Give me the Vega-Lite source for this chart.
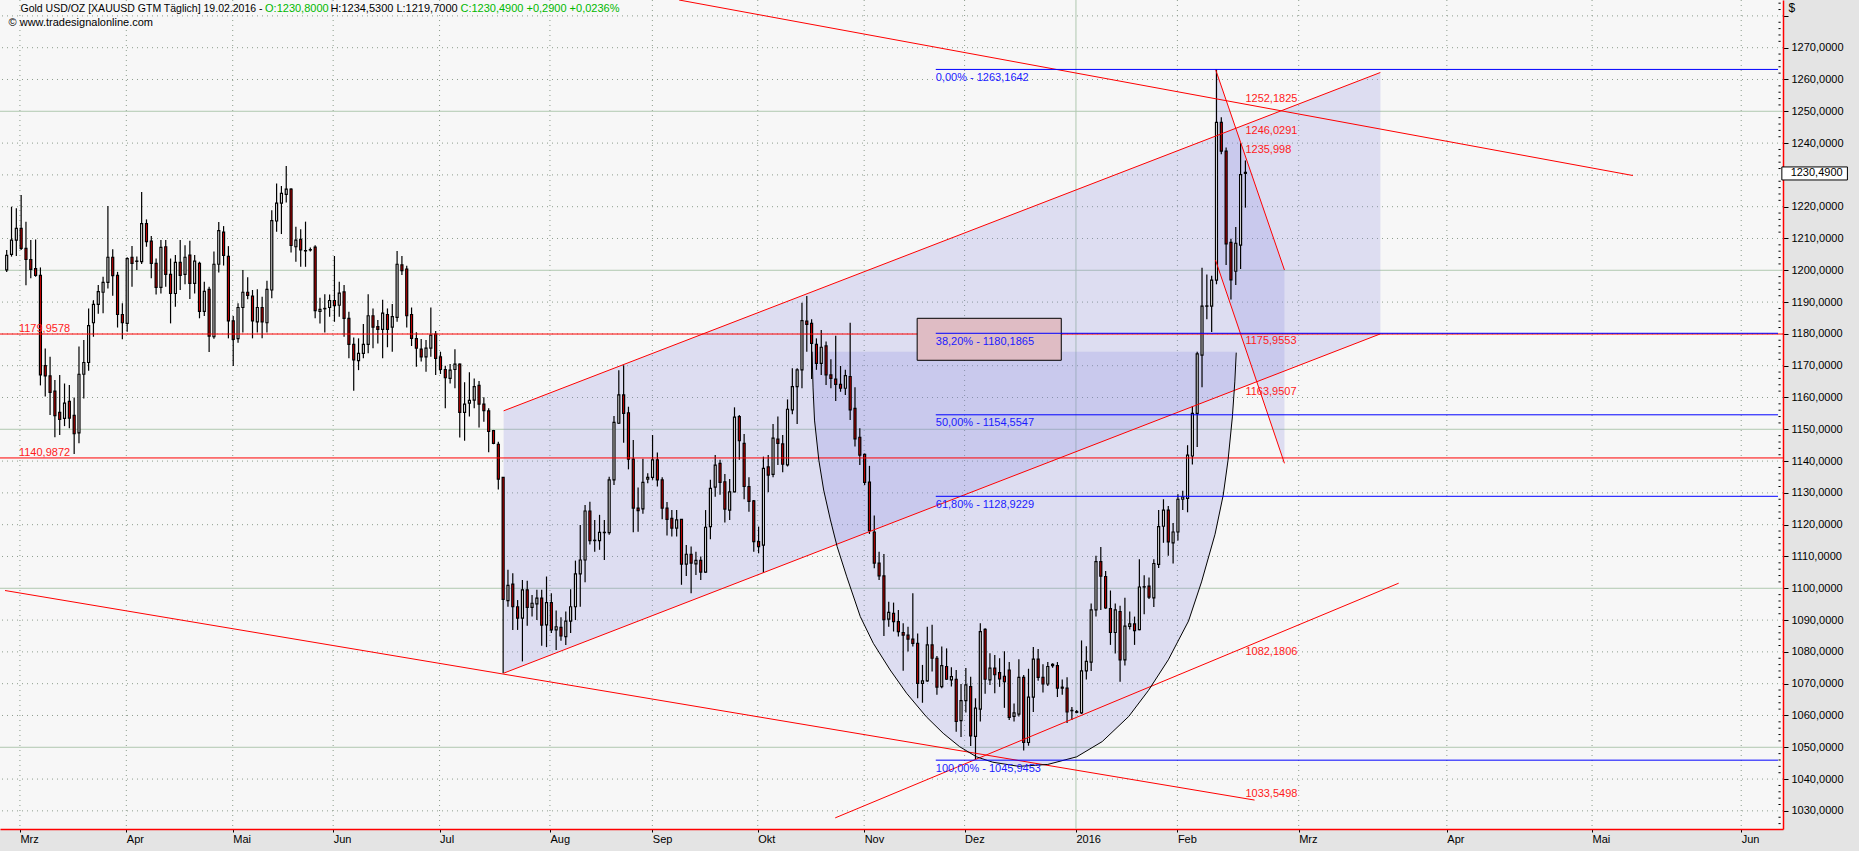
{
  "$schema": "https://vega.github.io/schema/vega-lite/v6.json",
  "width": 1783,
  "height": 829,
  "autosize": {"type": "none"},
  "padding": {"left": 0, "top": 0, "right": 76, "bottom": 22},
  "background": "#e4e4e4",
  "config": {"font": "Liberation Sans", "view": {"fill": "#f7f7f7", "stroke": null}},
  "resolve": {"axis": {"x": "independent", "y": "independent"}},
  "datasets": {
    "candles": [
      {"i":0,"o":1200.1,"h":1206.4,"l":1199.5,"c":1204.7},{"i":1,"o":1205.0,"h":1220.0,"l":1204.3,"c":1209.5},{"i":2,"o":1209.5,"h":1219.5,"l":1204.5,"c":1213.2},{"i":3,"o":1213.2,"h":1223.7,"l":1206.4,"c":1206.9},{"i":4,"o":1206.9,"h":1215.3,"l":1195.3,"c":1203.4},{"i":5,"o":1203.4,"h":1209.5,"l":1197.5,"c":1200.3},{"i":6,"o":1200.5,"h":1209.7,"l":1198.0,"c":1198.4},{"i":7,"o":1198.4,"h":1200.9,"l":1163.8,"c":1167.1},{"i":8,"o":1170.0,"h":1175.4,"l":1160.3,"c":1166.8},{"i":9,"o":1166.8,"h":1172.8,"l":1154.5,"c":1161.6},
      {"i":10,"o":1162.0,"h":1165.5,"l":1147.5,"c":1154.3},{"i":11,"o":1155.3,"h":1167.1,"l":1148.2,"c":1153.1},{"i":12,"o":1153.4,"h":1164.4,"l":1151.0,"c":1158.2},{"i":13,"o":1158.8,"h":1163.9,"l":1150.3,"c":1153.5},{"i":14,"o":1154.4,"h":1160.0,"l":1142.2,"c":1148.6},{"i":15,"o":1148.9,"h":1176.0,"l":1145.6,"c":1167.3},{"i":16,"o":1167.3,"h":1178.1,"l":1159.7,"c":1171.0},{"i":17,"o":1171.0,"h":1188.0,"l":1168.4,"c":1182.6},{"i":18,"o":1183.5,"h":1190.6,"l":1179.1,"c":1189.3},{"i":19,"o":1189.3,"h":1195.4,"l":1186.3,"c":1193.3},
      {"i":20,"o":1193.1,"h":1198.0,"l":1186.5,"c":1196.2},{"i":21,"o":1196.2,"h":1220.2,"l":1194.3,"c":1204.1},{"i":22,"o":1204.1,"h":1206.6,"l":1192.0,"c":1198.3},{"i":23,"o":1198.4,"h":1199.5,"l":1182.0,"c":1186.1},{"i":24,"o":1186.1,"h":1189.6,"l":1178.3,"c":1183.5},{"i":25,"o":1183.3,"h":1204.1,"l":1180.7,"c":1203.7},{"i":26,"o":1204.1,"h":1207.6,"l":1194.8,"c":1202.2},{"i":27,"o":1202.8,"h":1204.3,"l":1200.1,"c":1202.9},{"i":28,"o":1202.7,"h":1224.6,"l":1202.0,"c":1214.7},{"i":29,"o":1214.7,"h":1216.0,"l":1207.4,"c":1209.0},
      {"i":30,"o":1209.2,"h":1210.8,"l":1197.5,"c":1202.2},{"i":31,"o":1202.2,"h":1203.7,"l":1192.4,"c":1194.6},{"i":32,"o":1194.6,"h":1209.5,"l":1192.7,"c":1207.2},{"i":33,"o":1207.4,"h":1209.5,"l":1194.8,"c":1198.7},{"i":34,"o":1198.7,"h":1203.7,"l":1183.3,"c":1192.7},{"i":35,"o":1192.7,"h":1204.8,"l":1188.5,"c":1202.5},{"i":36,"o":1202.5,"h":1209.5,"l":1193.8,"c":1198.4},{"i":37,"o":1198.7,"h":1207.9,"l":1195.6,"c":1204.1},{"i":38,"o":1204.8,"h":1209.3,"l":1191.0,"c":1195.9},{"i":39,"o":1195.9,"h":1204.8,"l":1192.7,"c":1202.9},
      {"i":40,"o":1202.2,"h":1202.7,"l":1184.9,"c":1187.1},{"i":41,"o":1187.1,"h":1196.4,"l":1185.6,"c":1193.4},{"i":42,"o":1194.0,"h":1194.8,"l":1174.3,"c":1179.3},{"i":43,"o":1179.1,"h":1205.9,"l":1178.5,"c":1201.9},{"i":44,"o":1201.9,"h":1215.2,"l":1199.3,"c":1212.5},{"i":45,"o":1212.0,"h":1213.9,"l":1201.5,"c":1204.7},{"i":46,"o":1204.4,"h":1207.6,"l":1178.6,"c":1184.1},{"i":47,"o":1184.1,"h":1185.6,"l":1169.9,"c":1178.3},{"i":48,"o":1178.5,"h":1189.6,"l":1177.2,"c":1188.3},{"i":49,"o":1188.3,"h":1200.1,"l":1180.4,"c":1193.1},
      {"i":50,"o":1193.1,"h":1197.8,"l":1190.9,"c":1192.1},{"i":51,"o":1191.9,"h":1193.8,"l":1178.6,"c":1184.1},{"i":52,"o":1183.8,"h":1194.0,"l":1180.4,"c":1188.3},{"i":53,"o":1188.3,"h":1191.7,"l":1178.6,"c":1183.8},{"i":54,"o":1183.5,"h":1196.7,"l":1180.4,"c":1194.0},{"i":55,"o":1193.8,"h":1218.9,"l":1191.2,"c":1215.6},{"i":56,"o":1215.5,"h":1227.3,"l":1212.1,"c":1221.1},{"i":57,"o":1221.1,"h":1226.5,"l":1211.4,"c":1224.2},{"i":58,"o":1223.9,"h":1232.8,"l":1221.3,"c":1225.5},{"i":59,"o":1225.5,"h":1225.8,"l":1205.6,"c":1207.8},
      {"i":60,"o":1207.4,"h":1213.7,"l":1202.7,"c":1209.5},{"i":61,"o":1209.7,"h":1212.9,"l":1201.1,"c":1206.4},{"i":62,"o":1206.2,"h":1215.3,"l":1201.1,"c":1206.1},{"i":63,"o":1206.4,"h":1207.2,"l":1205.9,"c":1206.5},{"i":64,"o":1207.3,"h":1207.9,"l":1184.9,"c":1187.3},{"i":65,"o":1187.1,"h":1191.4,"l":1183.3,"c":1187.7},{"i":66,"o":1187.9,"h":1192.5,"l":1180.4,"c":1188.0},{"i":67,"o":1188.3,"h":1192.4,"l":1185.4,"c":1190.5},{"i":68,"o":1190.5,"h":1204.5,"l":1183.8,"c":1188.9},{"i":69,"o":1189.0,"h":1196.4,"l":1185.4,"c":1192.8},
      {"i":70,"o":1193.2,"h":1195.4,"l":1179.1,"c":1184.9},{"i":71,"o":1184.9,"h":1187.0,"l":1172.3,"c":1176.7},{"i":72,"o":1176.7,"h":1178.9,"l":1162.1,"c":1171.8},{"i":73,"o":1171.6,"h":1178.6,"l":1168.6,"c":1173.9},{"i":74,"o":1173.9,"h":1183.1,"l":1172.3,"c":1176.7},{"i":75,"o":1176.7,"h":1192.5,"l":1173.9,"c":1185.7},{"i":76,"o":1185.7,"h":1188.0,"l":1175.5,"c":1182.1},{"i":77,"o":1182.3,"h":1184.4,"l":1177.0,"c":1181.4},{"i":78,"o":1181.4,"h":1190.7,"l":1172.3,"c":1186.5},{"i":79,"o":1186.1,"h":1188.0,"l":1175.8,"c":1181.4},
      {"i":80,"o":1182.1,"h":1189.4,"l":1174.4,"c":1185.4},{"i":81,"o":1185.2,"h":1206.1,"l":1183.8,"c":1201.9},{"i":82,"o":1201.7,"h":1204.5,"l":1198.5,"c":1199.9},{"i":83,"o":1200.4,"h":1201.4,"l":1182.0,"c":1185.7},{"i":84,"o":1186.1,"h":1188.3,"l":1176.2,"c":1178.6},{"i":85,"o":1178.5,"h":1180.5,"l":1169.7,"c":1175.5},{"i":86,"o":1175.2,"h":1178.4,"l":1171.3,"c":1172.8},{"i":87,"o":1172.8,"h":1178.1,"l":1168.1,"c":1175.5},{"i":88,"o":1175.5,"h":1188.3,"l":1172.8,"c":1179.6},{"i":89,"o":1179.9,"h":1180.9,"l":1167.1,"c":1172.3},
      {"i":90,"o":1172.8,"h":1174.4,"l":1167.4,"c":1168.8},{"i":91,"o":1168.8,"h":1170.0,"l":1156.6,"c":1166.2},{"i":92,"o":1166.0,"h":1170.5,"l":1164.4,"c":1168.6},{"i":93,"o":1168.8,"h":1175.2,"l":1162.9,"c":1170.5},{"i":94,"o":1170.5,"h":1170.7,"l":1147.4,"c":1155.3},{"i":95,"o":1155.3,"h":1164.8,"l":1146.4,"c":1157.9},{"i":96,"o":1158.2,"h":1167.9,"l":1154.0,"c":1159.1},{"i":97,"o":1159.2,"h":1166.0,"l":1156.6,"c":1163.4},{"i":98,"o":1163.8,"h":1165.2,"l":1150.6,"c":1157.9},{"i":99,"o":1157.9,"h":1160.1,"l":1152.4,"c":1155.9},
      {"i":100,"o":1155.8,"h":1156.6,"l":1142.8,"c":1149.3},{"i":101,"o":1149.6,"h":1149.8,"l":1145.3,"c":1145.6},{"i":102,"o":1145.3,"h":1146.1,"l":1131.1,"c":1134.3},{"i":103,"o":1134.9,"h":1134.9,"l":1073.3,"c":1096.5},{"i":104,"o":1096.1,"h":1105.8,"l":1094.2,"c":1100.9},{"i":105,"o":1101.3,"h":1104.7,"l":1086.9,"c":1094.2},{"i":106,"o":1094.2,"h":1096.3,"l":1086.9,"c":1090.6},{"i":107,"o":1090.6,"h":1102.6,"l":1077.0,"c":1099.5},{"i":108,"o":1099.5,"h":1102.4,"l":1088.2,"c":1094.0},{"i":109,"o":1094.0,"h":1097.9,"l":1091.1,"c":1095.3},
      {"i":110,"o":1095.1,"h":1099.5,"l":1090.0,"c":1096.9},{"i":111,"o":1096.9,"h":1099.5,"l":1081.9,"c":1088.4},{"i":112,"o":1088.5,"h":1103.7,"l":1081.5,"c":1095.5},{"i":113,"o":1095.5,"h":1098.4,"l":1085.9,"c":1086.9},{"i":114,"o":1086.9,"h":1093.0,"l":1080.6,"c":1087.9},{"i":115,"o":1087.7,"h":1090.9,"l":1083.5,"c":1085.0},{"i":116,"o":1084.8,"h":1092.7,"l":1082.2,"c":1089.7},{"i":117,"o":1089.7,"h":1099.7,"l":1085.9,"c":1094.2},{"i":118,"o":1094.2,"h":1108.7,"l":1090.0,"c":1104.5},{"i":119,"o":1104.5,"h":1119.9,"l":1094.2,"c":1108.9},
      {"i":120,"o":1108.9,"h":1126.2,"l":1101.9,"c":1124.3},{"i":121,"o":1124.3,"h":1127.2,"l":1113.8,"c":1115.0},{"i":122,"o":1115.0,"h":1121.5,"l":1111.5,"c":1115.1},{"i":123,"o":1115.0,"h":1123.1,"l":1112.1,"c":1117.6},{"i":124,"o":1117.5,"h":1121.5,"l":1108.9,"c":1117.6},{"i":125,"o":1117.5,"h":1135.1,"l":1116.8,"c":1134.1},{"i":126,"o":1134.1,"h":1154.2,"l":1132.5,"c":1152.2},{"i":127,"o":1151.9,"h":1168.6,"l":1151.7,"c":1160.8},{"i":128,"o":1160.8,"h":1170.1,"l":1145.8,"c":1155.0},{"i":129,"o":1155.2,"h":1157.1,"l":1137.4,"c":1140.6},
      {"i":130,"o":1140.6,"h":1146.6,"l":1117.6,"c":1125.2},{"i":131,"o":1125.2,"h":1131.7,"l":1117.8,"c":1124.4},{"i":132,"o":1125.0,"h":1140.7,"l":1123.4,"c":1133.3},{"i":133,"o":1134.3,"h":1136.2,"l":1133.0,"c":1134.9},{"i":134,"o":1134.9,"h":1148.2,"l":1134.1,"c":1140.4},{"i":135,"o":1140.4,"h":1142.7,"l":1132.0,"c":1134.1},{"i":136,"o":1134.1,"h":1134.9,"l":1121.7,"c":1125.2},{"i":137,"o":1125.2,"h":1127.1,"l":1116.6,"c":1121.7},{"i":138,"o":1122.0,"h":1124.6,"l":1116.3,"c":1118.9},{"i":139,"o":1118.9,"h":1124.6,"l":1116.3,"c":1121.5},
      {"i":140,"o":1121.7,"h":1121.7,"l":1101.1,"c":1107.6},{"i":141,"o":1107.6,"h":1113.6,"l":1103.9,"c":1110.7},{"i":142,"o":1110.7,"h":1113.1,"l":1098.4,"c":1107.9},{"i":143,"o":1107.7,"h":1111.5,"l":1104.2,"c":1108.8},{"i":144,"o":1108.8,"h":1110.0,"l":1102.6,"c":1105.1},{"i":145,"o":1105.1,"h":1124.6,"l":1104.9,"c":1119.2},{"i":146,"o":1119.4,"h":1134.1,"l":1115.4,"c":1131.4},{"i":147,"o":1131.8,"h":1141.9,"l":1128.8,"c":1138.7},{"i":148,"o":1139.3,"h":1140.4,"l":1129.4,"c":1133.3},{"i":149,"o":1133.5,"h":1135.9,"l":1120.7,"c":1124.9},
      {"i":150,"o":1124.6,"h":1134.4,"l":1121.5,"c":1130.3},{"i":151,"o":1130.3,"h":1156.9,"l":1130.2,"c":1153.8},{"i":152,"o":1154.0,"h":1154.5,"l":1140.4,"c":1146.4},{"i":153,"o":1145.6,"h":1148.5,"l":1128.0,"c":1132.0},{"i":154,"o":1132.0,"h":1134.9,"l":1124.1,"c":1127.3},{"i":155,"o":1127.5,"h":1127.8,"l":1111.5,"c":1114.7},{"i":156,"o":1114.7,"h":1119.4,"l":1111.0,"c":1113.1},{"i":157,"o":1113.6,"h":1141.4,"l":1104.9,"c":1137.7},{"i":158,"o":1138.2,"h":1141.9,"l":1130.2,"c":1135.6},{"i":159,"o":1135.8,"h":1151.7,"l":1134.9,"c":1147.2},
      {"i":160,"o":1146.9,"h":1154.0,"l":1138.8,"c":1145.6},{"i":161,"o":1145.4,"h":1148.2,"l":1136.5,"c":1139.0},{"i":162,"o":1138.8,"h":1159.4,"l":1138.3,"c":1156.3},{"i":163,"o":1156.1,"h":1169.2,"l":1154.7,"c":1163.4},{"i":164,"o":1163.4,"h":1169.2,"l":1151.7,"c":1168.7},{"i":165,"o":1168.7,"h":1189.8,"l":1162.9,"c":1184.2},{"i":166,"o":1184.0,"h":1191.9,"l":1174.4,"c":1183.0},{"i":167,"o":1183.3,"h":1184.6,"l":1165.8,"c":1177.0},{"i":168,"o":1176.7,"h":1178.6,"l":1168.7,"c":1170.7},{"i":169,"o":1170.7,"h":1181.2,"l":1167.1,"c":1175.8},
      {"i":170,"o":1176.2,"h":1177.6,"l":1163.9,"c":1167.1},{"i":171,"o":1167.1,"h":1172.0,"l":1162.9,"c":1166.0},{"i":172,"o":1165.8,"h":1179.4,"l":1158.9,"c":1164.1},{"i":173,"o":1164.1,"h":1169.9,"l":1161.8,"c":1162.9},{"i":174,"o":1162.9,"h":1168.7,"l":1160.8,"c":1166.9},{"i":175,"o":1166.6,"h":1183.5,"l":1152.9,"c":1156.1},{"i":176,"o":1156.6,"h":1163.2,"l":1144.6,"c":1147.0},{"i":177,"o":1147.5,"h":1150.3,"l":1138.8,"c":1141.9},{"i":178,"o":1142.1,"h":1142.4,"l":1132.5,"c":1133.3},{"i":179,"o":1133.4,"h":1138.5,"l":1117.1,"c":1118.1},
      {"i":180,"o":1117.7,"h":1122.9,"l":1106.3,"c":1107.9},{"i":181,"o":1107.9,"h":1111.5,"l":1102.6,"c":1103.9},{"i":182,"o":1103.9,"h":1110.8,"l":1085.0,"c":1090.1},{"i":183,"o":1090.3,"h":1095.8,"l":1087.9,"c":1092.4},{"i":184,"o":1092.1,"h":1095.5,"l":1086.4,"c":1089.5},{"i":185,"o":1089.5,"h":1093.2,"l":1084.8,"c":1086.4},{"i":186,"o":1086.1,"h":1089.0,"l":1074.1,"c":1085.3},{"i":187,"o":1085.3,"h":1087.9,"l":1080.1,"c":1084.0},{"i":188,"o":1084.0,"h":1098.4,"l":1081.7,"c":1082.7},{"i":189,"o":1082.7,"h":1085.8,"l":1065.4,"c":1070.1},
      {"i":190,"o":1070.1,"h":1075.9,"l":1064.0,"c":1070.9},{"i":191,"o":1070.9,"h":1087.9,"l":1070.6,"c":1082.2},{"i":192,"o":1082.2,"h":1088.5,"l":1073.8,"c":1078.0},{"i":193,"o":1078.0,"h":1078.7,"l":1066.5,"c":1068.9},{"i":194,"o":1069.1,"h":1081.7,"l":1068.6,"c":1075.7},{"i":195,"o":1075.4,"h":1081.1,"l":1071.2,"c":1071.4},{"i":196,"o":1071.2,"h":1075.2,"l":1069.1,"c":1072.2},{"i":197,"o":1071.4,"h":1074.3,"l":1054.9,"c":1058.1},{"i":198,"o":1058.4,"h":1069.9,"l":1053.2,"c":1064.7},{"i":199,"o":1064.7,"h":1074.9,"l":1060.9,"c":1069.6},
      {"i":200,"o":1069.1,"h":1072.2,"l":1050.4,"c":1053.6},{"i":201,"o":1053.4,"h":1065.4,"l":1046.0,"c":1062.3},{"i":202,"o":1062.0,"h":1089.0,"l":1058.1,"c":1086.4},{"i":203,"o":1087.1,"h":1087.4,"l":1066.8,"c":1071.4},{"i":204,"o":1071.2,"h":1079.6,"l":1069.6,"c":1074.9},{"i":205,"o":1074.9,"h":1079.0,"l":1067.0,"c":1072.8},{"i":206,"o":1073.5,"h":1078.0,"l":1069.0,"c":1071.5},{"i":207,"o":1072.3,"h":1080.2,"l":1062.4,"c":1070.6},{"i":208,"o":1074.3,"h":1076.8,"l":1058.6,"c":1059.4},{"i":209,"o":1059.7,"h":1063.8,"l":1058.1,"c":1060.8},
      {"i":210,"o":1060.4,"h":1077.7,"l":1059.7,"c":1072.0},{"i":211,"o":1072.0,"h":1072.7,"l":1049.0,"c":1051.5},{"i":212,"o":1051.5,"h":1074.7,"l":1050.5,"c":1065.8},{"i":213,"o":1065.8,"h":1081.5,"l":1061.1,"c":1077.7},{"i":214,"o":1077.7,"h":1080.9,"l":1070.9,"c":1072.0},{"i":215,"o":1072.0,"h":1076.1,"l":1067.2,"c":1069.9},{"i":216,"o":1069.9,"h":1076.8,"l":1069.3,"c":1075.4},{"i":217,"o":1075.7,"h":1076.4,"l":1075.0,"c":1076.1},{"i":218,"o":1075.7,"h":1076.8,"l":1065.8,"c":1068.6},{"i":219,"o":1068.9,"h":1071.3,"l":1066.5,"c":1068.6},
      {"i":220,"o":1068.6,"h":1072.0,"l":1057.6,"c":1061.1},{"i":221,"o":1061.5,"h":1062.7,"l":1058.6,"c":1061.6},{"i":222,"o":1061.2,"h":1061.7,"l":1060.7,"c":1061.0},{"i":223,"o":1060.8,"h":1083.6,"l":1060.5,"c":1074.0},{"i":224,"o":1074.0,"h":1081.8,"l":1071.3,"c":1077.0},{"i":225,"o":1076.8,"h":1095.2,"l":1074.0,"c":1093.2},{"i":226,"o":1093.2,"h":1110.2,"l":1091.1,"c":1108.4},{"i":227,"o":1108.4,"h":1113.0,"l":1093.2,"c":1103.8},{"i":228,"o":1103.7,"h":1105.4,"l":1093.6,"c":1093.8},{"i":229,"o":1093.6,"h":1099.3,"l":1082.2,"c":1086.1},
      {"i":230,"o":1086.1,"h":1095.2,"l":1079.5,"c":1093.2},{"i":231,"o":1092.7,"h":1094.5,"l":1070.6,"c":1077.5},{"i":232,"o":1077.5,"h":1097.0,"l":1075.7,"c":1088.1},{"i":233,"o":1088.0,"h":1092.7,"l":1087.0,"c":1088.8},{"i":234,"o":1088.8,"h":1091.1,"l":1082.2,"c":1086.7},{"i":235,"o":1087.0,"h":1109.1,"l":1086.8,"c":1100.4},{"i":236,"o":1100.4,"h":1104.1,"l":1091.8,"c":1100.5},{"i":237,"o":1100.7,"h":1103.4,"l":1096.6,"c":1097.2},{"i":238,"o":1097.0,"h":1109.1,"l":1094.1,"c":1107.8},{"i":239,"o":1107.5,"h":1124.6,"l":1106.4,"c":1119.4},
      {"i":240,"o":1119.5,"h":1128.0,"l":1114.3,"c":1124.6},{"i":241,"o":1124.6,"h":1125.9,"l":1110.2,"c":1114.6},{"i":242,"o":1114.3,"h":1120.5,"l":1107.8,"c":1117.7},{"i":243,"o":1117.7,"h":1129.6,"l":1115.0,"c":1128.0},{"i":244,"o":1128.0,"h":1130.7,"l":1124.6,"c":1128.7},{"i":245,"o":1128.3,"h":1145.0,"l":1123.9,"c":1141.9},{"i":246,"o":1141.6,"h":1157.3,"l":1138.9,"c":1155.0},{"i":247,"o":1155.0,"h":1174.4,"l":1144.4,"c":1173.7},{"i":248,"o":1173.3,"h":1200.8,"l":1163.2,"c":1188.7},{"i":249,"o":1188.7,"h":1198.7,"l":1184.6,"c":1188.8},
      {"i":250,"o":1188.7,"h":1198.3,"l":1180.6,"c":1196.9},{"i":251,"o":1196.9,"h":1263.16,"l":1195.6,"c":1246.5},{"i":252,"o":1246.5,"h":1248.1,"l":1236.5,"c":1237.5},{"i":253,"o":1237.5,"h":1238.6,"l":1201.7,"c":1208.3},{"i":254,"o":1208.8,"h":1209.9,"l":1190.8,"c":1197.0},{"i":255,"o":1199.7,"h":1213.6,"l":1195.4,"c":1208.5},{"i":256,"o":1207.9,"h":1240.0,"l":1200.4,"c":1230.1},{"i":257,"o":1230.8,"h":1234.53,"l":1219.7,"c":1230.49}
    ],
    "arc": [
      {"i":167.1,"p":1174.4},{"i":167.3,"p":1163.0},{"i":167.6,"p":1152.9},{"i":168.5,"p":1140.3},{"i":169.5,"p":1130.9},{"i":170.9,"p":1121.5},{"i":172.3,"p":1113.1},{"i":174.3,"p":1103.6},{"i":177.1,"p":1091.1},{"i":179.8,"p":1082.7},{"i":183.3,"p":1074.3},{"i":186.7,"p":1067.0},{"i":190.8,"p":1059.6},{"i":194.3,"p":1054.4},{"i":197.7,"p":1050.2},{"i":201.2,"p":1047.0},{"i":204.6,"p":1045.3},{"i":210.0,"p":1044.0},{"i":216.0,"p":1044.6},{"i":222.0,"p":1047.0},{"i":227.3,"p":1051.8},{"i":232.8,"p":1059.7},{"i":236.9,"p":1067.9},{"i":241.0,"p":1077.5},{"i":245.2,"p":1089.7},{"i":247.9,"p":1102.0},{"i":250.7,"p":1117.0},{"i":252.4,"p":1129.3},{"i":253.4,"p":1140.3},{"i":254.3,"p":1153.9},{"i":254.8,"p":1164.9},{"i":255.1,"p":1174.1}
    ],
    "channel": [
      {"i":103.1,"top":1155.8,"bot":1073.3},{"i":285.0,"top":1262.2,"bot":1180.0}
    ],
    "wedge": [
      {"i":250.8,"top":1263.2,"bot":1203.2},{"i":265.1,"top":1200.1,"bot":1139.3}
    ],
    "redlines": [
      {"id":"a","i":139.5,"p":1285.0},{"id":"a","i":337.4,"p":1229.8},
      {"id":"b","i":-0.35,"p":1099.3},{"id":"b","i":258.9,"p":1033.4},
      {"id":"c","i":171.9,"p":1027.8},{"id":"c","i":288.8,"p":1101.6},
      {"id":"d","i":103.1,"p":1155.8},{"id":"d","i":285.0,"p":1262.2},
      {"id":"e","i":103.1,"p":1073.3},{"id":"e","i":285.0,"p":1180.0},
      {"id":"f1","i":250.8,"p":1263.2},{"id":"f1","i":265.1,"p":1200.1},
      {"id":"f2","i":250.8,"p":1203.2},{"id":"f2","i":265.1,"p":1139.3}
    ],
    "levels": [
      {"i":2.54,"p":1179.9578,"t":"1179,9578"},{"i":2.54,"p":1140.9872,"t":"1140,9872"}
    ],
    "fib": [
      {"p":1263.1642,"t":"0,00% - 1263,1642"},{"p":1180.1865,"t":"38,20% - 1180,1865"},{"p":1154.5547,"t":"50,00% - 1154,5547"},{"p":1128.9229,"t":"61,80% - 1128,9229"},{"p":1045.9453,"t":"100,00% - 1045,9453"}
    ],
    "valsAbove": [
      {"i":257.0,"p":1252.1825,"t":"1252,1825"},{"i":257.0,"p":1235.998,"t":"1235,998"},{"i":257.0,"p":1175.9553,"t":"1175,9553"},{"i":257.0,"p":1033.5498,"t":"1033,5498"}
    ],
    "valsBelow": [
      {"i":257.0,"p":1246.0291,"t":"1246,0291"},{"i":257.0,"p":1163.9507,"t":"1163,9507"},{"i":257.0,"p":1082.1806,"t":"1082,1806"}
    ],
    "headerName": [
      {"i":2.87,"p":1281.3,"t":"Gold USD/OZ [XAUUSD GTM  Täglich] 19.02.2016 -"}
    ],
    "header": [
      {"i":53.6,"p":1281.3,"t":"O:1230,8000","k":"b"},
      {"i":67.16,"p":1281.3,"t":"H:1234,5300 L:1219,7000","k":"a"},
      {"i":94.14,"p":1281.3,"t":"C:1230,4900 +0,2900 +0,0236%","k":"b"},
      {"i":0.39,"p":1276.7,"t":"© www.tradesignalonline.com","k":"a"}
    ],
    "box": [
      {"i0":188.9,"i1":218.8,"p0":1184.9,"p1":1171.7}
    ],
    "last": [
      {"p":1230.49,"t":"1230,4900"}
    ],
    "solidY": [
      {"v":1050},{"v":1100},{"v":1150},{"v":1200},{"v":1250}
    ],
    "solidX": [
      {"v":221.846}
    ],
    "dotY": [
      {"v":1030},{"v":1040},{"v":1060},{"v":1070},{"v":1080},{"v":1090},{"v":1110},{"v":1120},{"v":1130},{"v":1140},{"v":1160},{"v":1170},{"v":1180},{"v":1190},{"v":1210},{"v":1220},{"v":1230},{"v":1240},{"v":1260},{"v":1270},{"v":1280}
    ],
    "dotX": [
      {"v":2.745},{"v":24.82},{"v":46.895},{"v":67.732},{"v":89.807},{"v":112.708},{"v":133.958},{"v":155.827},{"v":177.902},{"v":198.739},{"v":242.889},{"v":268.059},{"v":298.8},{"v":328.921},{"v":359.867}
    ],
    "minor": [
      {"v":1026},{"v":1028},{"v":1032},{"v":1034},{"v":1036},{"v":1038},{"v":1042},{"v":1044},{"v":1046},{"v":1048},
      {"v":1052},{"v":1054},{"v":1056},{"v":1058},{"v":1062},{"v":1064},{"v":1066},{"v":1068},{"v":1072},{"v":1074},{"v":1076},{"v":1078},
      {"v":1082},{"v":1084},{"v":1086},{"v":1088},{"v":1092},{"v":1094},{"v":1096},{"v":1098},{"v":1102},{"v":1104},{"v":1106},{"v":1108},
      {"v":1112},{"v":1114},{"v":1116},{"v":1118},{"v":1122},{"v":1124},{"v":1126},{"v":1128},{"v":1132},{"v":1134},{"v":1136},{"v":1138},
      {"v":1142},{"v":1144},{"v":1146},{"v":1148},{"v":1152},{"v":1154},{"v":1156},{"v":1158},{"v":1162},{"v":1164},{"v":1166},{"v":1168},
      {"v":1172},{"v":1174},{"v":1176},{"v":1178},{"v":1182},{"v":1184},{"v":1186},{"v":1188},{"v":1192},{"v":1194},{"v":1196},{"v":1198},
      {"v":1202},{"v":1204},{"v":1206},{"v":1208},{"v":1212},{"v":1214},{"v":1216},{"v":1218},{"v":1222},{"v":1224},{"v":1226},{"v":1228},
      {"v":1232},{"v":1234},{"v":1236},{"v":1238},{"v":1242},{"v":1244},{"v":1246},{"v":1248},{"v":1252},{"v":1254},{"v":1256},{"v":1258},
      {"v":1262},{"v":1264},{"v":1266},{"v":1268},{"v":1272},{"v":1274},{"v":1276},{"v":1278},{"v":1282},{"v":1284}
    ]
  },
  "layer": [
    {
      "data": {"name": "candles"},
      "mark": {"type": "bar", "orient": "vertical", "width": 2, "opacity": 0},
      "encoding": {
        "x": {
          "field": "i", "type": "quantitative",
          "scale": {"domain": [-0.35, 367.5], "nice": false, "zero": false},
          "axis": {
            "title": null,
            "values": [2.745, 24.82, 46.895, 67.732, 89.807, 112.708, 133.958, 155.827, 177.902, 198.739, 221.846, 242.889, 268.059, 298.8, 328.921, 359.867],
            "labelExpr": "['Mrz','Apr','Mai','Jun','Jul','Aug','Sep','Okt','Nov','Dez','2016','Feb','Mrz','Apr','Mai','Jun'][indexof([2.745, 24.82, 46.895, 67.732, 89.807, 112.708, 133.958, 155.827, 177.902, 198.739, 221.846, 242.889, 268.059, 298.8, 328.921, 359.867], datum.value)]",
            "grid": false,
            "domainColor": "#ff0000",
            "domainWidth": 1.5,
            "tickColor": "#000000",
            "tickSize": 3,
            "labelAlign": "left",
            "labelPadding": 1,
            "labelFont": "Liberation Sans",
            "labelFontSize": 11,
            "labelColor": "#000000",
            "labelFlush": false,
            "labelOverlap": false
          }
        },
        "y": {
          "field": "o", "type": "quantitative",
          "scale": {"domain": [1024.3, 1285], "nice": false, "zero": false},
          "axis": {
            "orient": "right",
            "title": "$",
            "titleAngle": 0,
            "titleAlign": "left",
            "titleBaseline": "top",
            "titleX": 5,
            "titleY": 2,
            "titleFont": "Liberation Sans",
            "titleFontSize": 12,
            "titleFontWeight": "normal",
            "values": [1030,1040,1050,1060,1070,1080,1090,1100,1110,1120,1130,1140,1150,1160,1170,1180,1190,1200,1210,1220,1230,1240,1250,1260,1270,1280],
            "labelExpr": "datum.value <= 1270 ? replace(format(datum.value, '.4f'), '.', ',') : ''",
            "labelFont": "Liberation Sans",
            "labelFontSize": 11,
            "labelColor": "#000000",
            "labelPadding": 3,
            "labelOverlap": false,
            "labelFlush": false,
            "tickColor": "#000000",
            "tickSize": 5,
            "domainColor": "#ff0000",
            "domainWidth": 1.5,
            "grid": false
          }
        },
        "y2": {"field": "c"}
      }
    },
    {
      "data": {"name": "dotY"},
      "mark": {"type": "rule", "color": "#8d9d8d", "strokeWidth": 1, "strokeDash": [1, 4]},
      "encoding": {
        "y": {"field": "v", "type": "quantitative", "scale": {"domain": [1024.3, 1285], "nice": false, "zero": false}, "axis": null}
      }
    },
    {
      "data": {"name": "dotX"},
      "mark": {"type": "rule", "color": "#8d9d8d", "strokeWidth": 1, "strokeDash": [1, 4]},
      "encoding": {
        "x": {"field": "v", "type": "quantitative", "scale": {"domain": [-0.35, 367.5], "nice": false, "zero": false}, "axis": null}
      }
    },
    {
      "data": {"name": "solidY"},
      "mark": {"type": "rule", "color": "#b0c8b0", "strokeWidth": 1},
      "encoding": {
        "y": {"field": "v", "type": "quantitative", "scale": {"domain": [1024.3, 1285], "nice": false, "zero": false}, "axis": null}
      }
    },
    {
      "data": {"name": "solidX"},
      "mark": {"type": "rule", "color": "#b0c8b0", "strokeWidth": 1},
      "encoding": {
        "x": {"field": "v", "type": "quantitative", "scale": {"domain": [-0.35, 367.5], "nice": false, "zero": false}, "axis": null}
      }
    },
    {
      "data": {"name": "minor"},
      "mark": {"type": "rule", "color": "#000000", "strokeWidth": 1},
      "encoding": {
        "x": {"datum": 367.6, "type": "quantitative", "scale": {"domain": [-0.35, 367.5], "nice": false, "zero": false}, "axis": null},
        "x2": {"datum": 368.05},
        "y": {"field": "v", "type": "quantitative", "scale": {"domain": [1024.3, 1285], "nice": false, "zero": false}, "axis": null}
      }
    },
    {
      "data": {"name": "channel"},
      "mark": {"type": "area", "color": "#8282e1", "opacity": 0.22},
      "encoding": {
        "x": {"field": "i", "type": "quantitative", "scale": {"domain": [-0.35, 367.5], "nice": false, "zero": false}, "axis": null},
        "y": {"field": "top", "type": "quantitative", "scale": {"domain": [1024.3, 1285], "nice": false, "zero": false}, "axis": null},
        "y2": {"field": "bot"}
      }
    },
    {
      "data": {"name": "arc"},
      "mark": {"type": "area", "color": "#8282e1", "opacity": 0.22},
      "encoding": {
        "x": {"field": "i", "type": "quantitative", "scale": {"domain": [-0.35, 367.5], "nice": false, "zero": false}, "axis": null},
        "y": {"field": "p", "type": "quantitative", "scale": {"domain": [1024.3, 1285], "nice": false, "zero": false}, "axis": null},
        "y2": {"datum": 1174.4}
      }
    },
    {
      "data": {"name": "wedge"},
      "mark": {"type": "area", "color": "#8282e1", "opacity": 0.22},
      "encoding": {
        "x": {"field": "i", "type": "quantitative", "scale": {"domain": [-0.35, 367.5], "nice": false, "zero": false}, "axis": null},
        "y": {"field": "top", "type": "quantitative", "scale": {"domain": [1024.3, 1285], "nice": false, "zero": false}, "axis": null},
        "y2": {"field": "bot"}
      }
    },
    {
      "data": {"name": "candles"},
      "mark": {"type": "rule", "color": "#000000", "strokeWidth": 1.2},
      "encoding": {
        "x": {"field": "i", "type": "quantitative", "scale": {"domain": [-0.35, 367.5], "nice": false, "zero": false}, "axis": null},
        "y": {"field": "l", "type": "quantitative", "scale": {"domain": [1024.3, 1285], "nice": false, "zero": false}, "axis": null},
        "y2": {"field": "h"}
      }
    },
    {
      "data": {"name": "candles"},
      "mark": {"type": "bar", "orient": "vertical", "width": 2, "stroke": "#000000", "strokeWidth": 1.2},
      "encoding": {
        "x": {"field": "i", "type": "quantitative", "scale": {"domain": [-0.35, 367.5], "nice": false, "zero": false}, "axis": null},
        "y": {"field": "o", "type": "quantitative", "scale": {"domain": [1024.3, 1285], "nice": false, "zero": false}, "axis": null},
        "y2": {"field": "c"},
        "fill": {"condition": {"test": "datum.c < datum.o", "value": "#e60000"}, "value": "#ffffff"}
      }
    },
    {
      "data": {"name": "levels"},
      "mark": {"type": "rule", "color": "#ff0000", "strokeWidth": 1},
      "encoding": {
        "y": {"field": "p", "type": "quantitative", "scale": {"domain": [1024.3, 1285], "nice": false, "zero": false}, "axis": null}
      }
    },
    {
      "data": {"name": "redlines"},
      "mark": {"type": "line", "color": "#ff0000", "strokeWidth": 1},
      "encoding": {
        "x": {"field": "i", "type": "quantitative", "scale": {"domain": [-0.35, 367.5], "nice": false, "zero": false}, "axis": null},
        "y": {"field": "p", "type": "quantitative", "scale": {"domain": [1024.3, 1285], "nice": false, "zero": false}, "axis": null},
        "detail": {"field": "id"}
      }
    },
    {
      "data": {"name": "arc"},
      "mark": {"type": "line", "color": "#000000", "strokeWidth": 1},
      "encoding": {
        "x": {"field": "i", "type": "quantitative", "scale": {"domain": [-0.35, 367.5], "nice": false, "zero": false}, "axis": null},
        "y": {"field": "p", "type": "quantitative", "scale": {"domain": [1024.3, 1285], "nice": false, "zero": false}, "axis": null}
      }
    },
    {
      "data": {"name": "box"},
      "mark": {"type": "rect", "fill": "#dfbcc4", "stroke": "#000000", "strokeWidth": 1},
      "encoding": {
        "x": {"field": "i0", "type": "quantitative", "scale": {"domain": [-0.35, 367.5], "nice": false, "zero": false}, "axis": null},
        "x2": {"field": "i1"},
        "y": {"field": "p0", "type": "quantitative", "scale": {"domain": [1024.3, 1285], "nice": false, "zero": false}, "axis": null},
        "y2": {"field": "p1"}
      }
    },
    {
      "data": {"name": "fib"},
      "mark": {"type": "rule", "color": "#0000ff", "strokeWidth": 1},
      "encoding": {
        "x": {"datum": 192.76, "type": "quantitative", "scale": {"domain": [-0.35, 367.5], "nice": false, "zero": false}, "axis": null},
        "x2": {"datum": 367.5},
        "y": {"field": "p", "type": "quantitative", "scale": {"domain": [1024.3, 1285], "nice": false, "zero": false}, "axis": null}
      }
    },
    {
      "data": {"name": "fib"},
      "mark": {"type": "text", "align": "left", "baseline": "top", "dy": 2.5, "font": "Liberation Sans", "fontSize": 11, "color": "#1a1aff"},
      "encoding": {
        "x": {"datum": 192.76, "type": "quantitative", "scale": {"domain": [-0.35, 367.5], "nice": false, "zero": false}, "axis": null},
        "y": {"field": "p", "type": "quantitative", "scale": {"domain": [1024.3, 1285], "nice": false, "zero": false}, "axis": null},
        "text": {"field": "t"}
      }
    },
    {
      "data": {"name": "levels"},
      "mark": {"type": "text", "align": "left", "baseline": "alphabetic", "dy": -2, "font": "Liberation Sans", "fontSize": 11, "color": "#ff1a1a"},
      "encoding": {
        "x": {"field": "i", "type": "quantitative", "scale": {"domain": [-0.35, 367.5], "nice": false, "zero": false}, "axis": null},
        "y": {"field": "p", "type": "quantitative", "scale": {"domain": [1024.3, 1285], "nice": false, "zero": false}, "axis": null},
        "text": {"field": "t"}
      }
    },
    {
      "data": {"name": "valsAbove"},
      "mark": {"type": "text", "align": "left", "baseline": "alphabetic", "dy": -2.5, "font": "Liberation Sans", "fontSize": 11, "color": "#ff1a1a"},
      "encoding": {
        "x": {"field": "i", "type": "quantitative", "scale": {"domain": [-0.35, 367.5], "nice": false, "zero": false}, "axis": null},
        "y": {"field": "p", "type": "quantitative", "scale": {"domain": [1024.3, 1285], "nice": false, "zero": false}, "axis": null},
        "text": {"field": "t"}
      }
    },
    {
      "data": {"name": "valsBelow"},
      "mark": {"type": "text", "align": "left", "baseline": "top", "dy": 1, "font": "Liberation Sans", "fontSize": 11, "color": "#ff1a1a"},
      "encoding": {
        "x": {"field": "i", "type": "quantitative", "scale": {"domain": [-0.35, 367.5], "nice": false, "zero": false}, "axis": null},
        "y": {"field": "p", "type": "quantitative", "scale": {"domain": [1024.3, 1285], "nice": false, "zero": false}, "axis": null},
        "text": {"field": "t"}
      }
    },
    {
      "data": {"name": "headerName"},
      "mark": {"type": "text", "align": "left", "baseline": "alphabetic", "font": "Liberation Sans", "fontSize": 10.5, "color": "#000000"},
      "encoding": {
        "x": {"field": "i", "type": "quantitative", "scale": {"domain": [-0.35, 367.5], "nice": false, "zero": false}, "axis": null},
        "y": {"field": "p", "type": "quantitative", "scale": {"domain": [1024.3, 1285], "nice": false, "zero": false}, "axis": null},
        "text": {"field": "t"}
      }
    },
    {
      "data": {"name": "header"},
      "mark": {"type": "text", "align": "left", "baseline": "alphabetic", "font": "Liberation Sans", "fontSize": 11},
      "encoding": {
        "x": {"field": "i", "type": "quantitative", "scale": {"domain": [-0.35, 367.5], "nice": false, "zero": false}, "axis": null},
        "y": {"field": "p", "type": "quantitative", "scale": {"domain": [1024.3, 1285], "nice": false, "zero": false}, "axis": null},
        "text": {"field": "t"},
        "color": {"field": "k", "type": "nominal", "scale": {"domain": ["a", "b"], "range": ["#000000", "#00b800"]}, "legend": null}
      }
    },
    {
      "data": {"name": "last"},
      "mark": {"type": "rect", "fill": "#ffffff", "stroke": "#000000", "strokeWidth": 1},
      "encoding": {
        "x": {"datum": 368.3, "type": "quantitative", "scale": {"domain": [-0.35, 367.5], "nice": false, "zero": false}, "axis": null},
        "x2": {"datum": 381.9},
        "y": {"datum": 1232.5, "type": "quantitative", "scale": {"domain": [1024.3, 1285], "nice": false, "zero": false}, "axis": null},
        "y2": {"datum": 1228.4}
      }
    },
    {
      "data": {"name": "last"},
      "mark": {"type": "text", "align": "center", "baseline": "middle", "font": "Liberation Sans", "fontSize": 11, "color": "#000000", "dx": 2},
      "encoding": {
        "x": {"datum": 375.1, "type": "quantitative", "scale": {"domain": [-0.35, 367.5], "nice": false, "zero": false}, "axis": null},
        "y": {"field": "p", "type": "quantitative", "scale": {"domain": [1024.3, 1285], "nice": false, "zero": false}, "axis": null},
        "text": {"field": "t"}
      }
    }
  ]
}
